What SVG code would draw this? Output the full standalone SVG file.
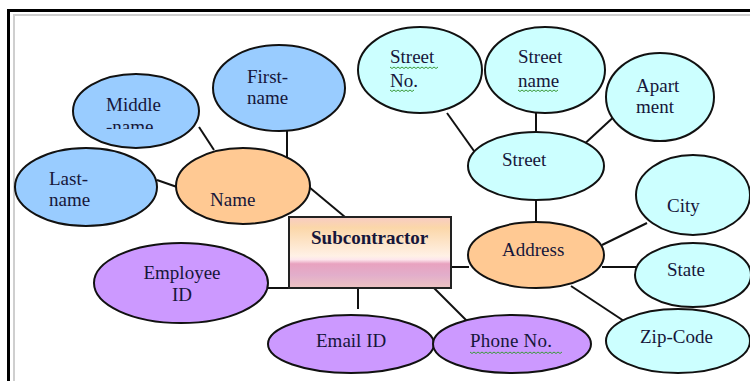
<svg xmlns="http://www.w3.org/2000/svg" width="750" height="381" viewBox="0 0 750 381">
<style>
text{font-family:"Liberation Serif","Times New Roman",serif;font-size:19px;fill:#16163a}
.e{stroke:#111;stroke-width:2}
.blue{fill:#99ccff}
.orange{fill:#ffc993}
.cyan{fill:#ccffff}
.purple{fill:#cc99ff}
.c line{stroke:#111;stroke-width:2}
.sq{fill:none;stroke:#3a9a3a;stroke-width:1}
</style>
<defs>
<linearGradient id="g" x1="0" y1="0" x2="0" y2="1">
<stop offset="0" stop-color="#f8ccc4"/>
<stop offset="0.15" stop-color="#fbd7a9"/>
<stop offset="0.55" stop-color="#fff1e6"/>
<stop offset="0.6" stop-color="#fde6ec"/>
<stop offset="0.66" stop-color="#e8a2bf"/>
<stop offset="0.82" stop-color="#e2aecb"/>
<stop offset="1" stop-color="#eec4c2"/>
</linearGradient>
<clipPath id="clipMid"><rect x="60" y="60" width="160" height="69"/></clipPath>
<clipPath id="clipName"><rect x="170" y="150" width="150" height="56"/></clipPath>
</defs>
<rect x="0" y="0" width="750" height="381" fill="#fff"/>
<g id="frame">
<path d="M8.5 381 V10.5 H750" fill="none" stroke="#000" stroke-width="3"/>
<path d="M14 381 V15 H750" fill="none" stroke="#cfcfcf" stroke-width="2"/>
</g>
<g class="c" id="connectors">
<line x1="199" y1="127" x2="214" y2="150"/>
<line x1="287" y1="131" x2="287" y2="157"/>
<line x1="157" y1="180" x2="177" y2="187"/>
<line x1="309" y1="187" x2="345" y2="217"/>
<line x1="268" y1="288" x2="290" y2="288"/>
<line x1="358" y1="286" x2="358" y2="309"/>
<line x1="434" y1="288" x2="469" y2="323"/>
<line x1="446" y1="267" x2="469" y2="267"/>
<line x1="536" y1="199" x2="536" y2="223"/>
<line x1="647" y1="223" x2="602" y2="245"/>
<line x1="602" y1="267" x2="636" y2="267"/>
<line x1="571" y1="286" x2="627" y2="323"/>
<line x1="447" y1="113" x2="479" y2="158"/>
<line x1="536" y1="112" x2="536" y2="133"/>
<line x1="618" y1="113" x2="580" y2="148"/>
</g>
<g id="first-name"><ellipse class="e blue" cx="279" cy="88" rx="66" ry="43"/><text x="247" y="83">First-</text><text x="247" y="104">name</text></g>
<g id="middle-name"><ellipse class="e blue" cx="136" cy="111" rx="63" ry="37"/><text x="106" y="111">Middle</text><text x="106" y="133" clip-path="url(#clipMid)">-name</text></g>
<g id="last-name"><ellipse class="e blue" cx="86" cy="187" rx="71" ry="39"/><text x="49" y="185">Last-</text><text x="49" y="206">name</text></g>
<g id="name"><ellipse class="e orange" cx="243" cy="186" rx="67" ry="38"/><text x="210" y="206" clip-path="url(#clipName)">Name</text></g>
<g id="subcontractor"><rect x="289" y="217" width="162" height="71" fill="url(#g)" stroke="#222" stroke-width="2"/><text x="311" y="244" style="font-weight:bold;font-size:19px">Subcontractor</text></g>
<g id="employee-id"><ellipse class="e purple" cx="181" cy="283" rx="87" ry="40"/><text x="182" y="279" text-anchor="middle">Employee</text><text x="182" y="301" text-anchor="middle">ID</text></g>
<g id="email-id"><ellipse class="e purple" cx="351" cy="344" rx="83" ry="29"/><text x="316" y="347">Email ID</text></g>
<g id="phone-no"><ellipse class="e purple" cx="512" cy="344" rx="79" ry="29"/><text x="470" y="347" textLength="82">Phone No.</text><path class="sq" d="M470 352 l2 1.5 2-1.5 2 1.5 2-1.5 2 1.5 2-1.5 2 1.5 2-1.5 2 1.5 2-1.5 2 1.5 2-1.5 2 1.5 2-1.5 2 1.5 2-1.5 2 1.5 2-1.5 2 1.5 2-1.5 2 1.5 2-1.5 2 1.5 2-1.5 2 1.5 2-1.5 2 1.5 2-1.5 2 1.5 2-1.5 2 1.5 2-1.5 2 1.5 2-1.5 2 1.5 2-1.5 2 1.5 2-1.5 2 1.5 2-1.5 2 1.5 2-1.5 2 1.5 2-1.5 2 1.5 2-1.5"/></g>
<g id="street-no"><ellipse class="e cyan" cx="420" cy="70" rx="62" ry="43"/><text x="390" y="63">Street</text><text x="390" y="87">No.</text><path class="sq" d="M390 67 l2 1.5 2-1.5 2 1.5 2-1.5 2 1.5 2-1.5 2 1.5 2-1.5 2 1.5 2-1.5 2 1.5 2-1.5 2 1.5 2-1.5 2 1.5 2-1.5 2 1.5 2-1.5 2 1.5 2-1.5 2 1.5 2-1.5 2 1.5 2-1.5 M390 90 l2 1.5 2-1.5 2 1.5 2-1.5 2 1.5 2-1.5 2 1.5 2-1.5 2 1.5 2-1.5 2 1.5 2-1.5"/></g>
<g id="street-name"><ellipse class="e cyan" cx="545" cy="70" rx="60" ry="43"/><text x="518" y="63">Street</text><text x="518" y="87">name</text><path class="sq" d="M518 90 l2 1.5 2-1.5 2 1.5 2-1.5 2 1.5 2-1.5 2 1.5 2-1.5 2 1.5 2-1.5 2 1.5 2-1.5 2 1.5 2-1.5 2 1.5 2-1.5 2 1.5 2-1.5 2 1.5 2-1.5"/></g>
<g id="apartment"><ellipse class="e cyan" cx="660" cy="97" rx="54" ry="44"/><text x="636" y="92">Apart</text><text x="636" y="113">ment</text></g>
<g id="street"><ellipse class="e cyan" cx="536" cy="166" rx="68" ry="34"/><text x="502" y="166">Street</text></g>
<g id="address"><ellipse class="e orange" cx="536" cy="255" rx="68" ry="33"/><text x="502" y="256">Address</text></g>
<g id="city"><ellipse class="e cyan" cx="693" cy="195" rx="57" ry="40"/><text x="667" y="212">City</text></g>
<g id="state"><ellipse class="e cyan" cx="693" cy="275" rx="58" ry="32"/><text x="667" y="276">State</text></g>
<g id="zip-code"><ellipse class="e cyan" cx="678" cy="341" rx="72" ry="32"/><text x="640" y="343">Zip-Code</text></g>
</svg>
